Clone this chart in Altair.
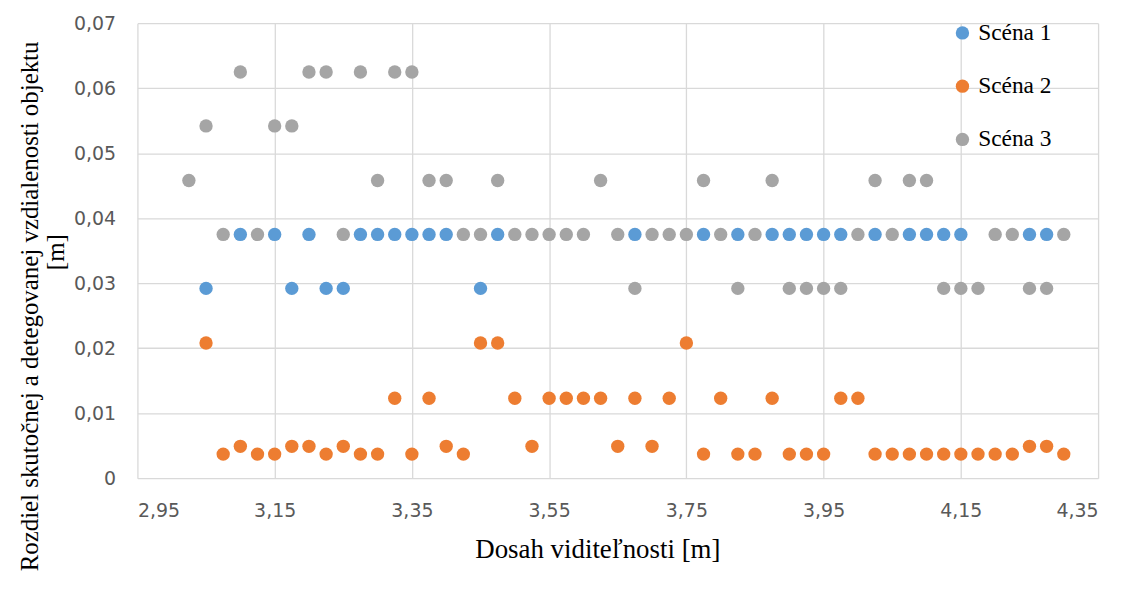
import altair as alt
import pandas as pd

# Scéna 1
s1_x = [3.05, 3.10, 3.15, 3.175, 3.20, 3.225, 3.25, 3.275, 3.30, 3.325, 3.35, 3.375, 3.40,
        3.45, 3.475, 3.675, 3.775, 3.825, 3.875, 3.90, 3.925, 3.95, 3.975, 4.025, 4.075,
        4.10, 4.125, 4.15, 4.25, 4.275]
s1_y = [0.0292, 0.0375, 0.0375, 0.0292, 0.0375, 0.0292, 0.0292, 0.0375, 0.0375, 0.0375,
        0.0375, 0.0375, 0.0375, 0.0292, 0.0375, 0.0375, 0.0375, 0.0375, 0.0375, 0.0375,
        0.0375, 0.0375, 0.0375, 0.0375, 0.0375, 0.0375, 0.0375, 0.0375, 0.0375, 0.0375]

# Scéna 2
s2_x = [3.05, 3.075, 3.10, 3.125, 3.15, 3.175, 3.20, 3.225, 3.25, 3.275, 3.30, 3.325, 3.35,
        3.375, 3.40, 3.425, 3.45, 3.475, 3.50, 3.525, 3.55, 3.575, 3.60, 3.625, 3.65, 3.675,
        3.70, 3.725, 3.75, 3.775, 3.80, 3.825, 3.85, 3.875, 3.90, 3.925, 3.95, 3.975, 4.00,
        4.025, 4.05, 4.075, 4.10, 4.125, 4.15, 4.175, 4.20, 4.225, 4.25, 4.275, 4.30]
s2_y = [0.0208, 0.0037, 0.0049, 0.0037, 0.0037, 0.0049, 0.0049, 0.0037, 0.0049, 0.0037,
        0.0037, 0.0123, 0.0037, 0.0123, 0.0049, 0.0037, 0.0208, 0.0208, 0.0123, 0.0049,
        0.0123, 0.0123, 0.0123, 0.0123, 0.0049, 0.0123, 0.0049, 0.0123, 0.0208, 0.0037,
        0.0123, 0.0037, 0.0037, 0.0123, 0.0037, 0.0037, 0.0037, 0.0123, 0.0123, 0.0037,
        0.0037, 0.0037, 0.0037, 0.0037, 0.0037, 0.0037, 0.0037, 0.0037, 0.0049, 0.0049,
        0.0037]

# Scéna 3
s3_x = [3.025, 3.05, 3.075, 3.10, 3.125, 3.15, 3.175, 3.20, 3.225, 3.25, 3.275, 3.30, 3.325,
        3.35, 3.375, 3.40, 3.425, 3.45, 3.475, 3.50, 3.525, 3.55, 3.575, 3.60, 3.625, 3.65,
        3.675, 3.70, 3.725, 3.75, 3.775, 3.80, 3.825, 3.85, 3.875, 3.90, 3.925, 3.95, 3.975,
        4.00, 4.025, 4.05, 4.075, 4.10, 4.125, 4.15, 4.175, 4.20, 4.225, 4.25, 4.275, 4.30]
s3_y = [0.0458, 0.0542, 0.0375, 0.0625, 0.0375, 0.0542, 0.0542, 0.0625, 0.0625, 0.0375,
        0.0625, 0.0458, 0.0625, 0.0625, 0.0458, 0.0458, 0.0375, 0.0375, 0.0458, 0.0375,
        0.0375, 0.0375, 0.0375, 0.0375, 0.0458, 0.0375, 0.0292, 0.0375, 0.0375, 0.0375,
        0.0458, 0.0375, 0.0292, 0.0375, 0.0458, 0.0292, 0.0292, 0.0292, 0.0292, 0.0375,
        0.0458, 0.0375, 0.0458, 0.0458, 0.0292, 0.0292, 0.0292, 0.0375, 0.0375, 0.0292,
        0.0292, 0.0375]

series_names = ["Scéna 1", "Scéna 2", "Scéna 3"]
series_colors = ["#5B9BD5", "#ED7D31", "#A5A5A5"]
x_ticks = [2.95, 3.15, 3.35, 3.55, 3.75, 3.95, 4.15, 4.35]
y_ticks = [0, 0.01, 0.02, 0.03, 0.04, 0.05, 0.06, 0.07]

rows = []
for name, xs, ys in zip(series_names, [s1_x, s2_x, s3_x], [s1_y, s2_y, s3_y]):
    for xv, yv in zip(xs, ys):
        rows.append({"x": xv, "y": yv, "s": name})
df = pd.DataFrame(rows)

points = alt.Chart(df).mark_circle(size=180, opacity=1).encode(
    x=alt.X("x:Q", scale=alt.Scale(domain=[2.95, 4.35], nice=False, zero=False),
            axis=alt.Axis(values=x_ticks, title="Dosah viditeľnosti [m]",
                          labelExpr="replace(format(datum.value, '.2f'), '.', ',')",
                          titleX=462, titleY=72, titleBaseline="middle",
                          titleAnchor="start", titleAlign="center", titleFontSize=27)),
    y=alt.Y("y:Q", scale=alt.Scale(domain=[0, 0.07], nice=False),
            axis=alt.Axis(values=y_ticks,
                          title="Rozdiel skutočnej a detegovanej vzdialenosti objektu",
                          labelExpr="datum.value == 0 ? '0' : replace(format(datum.value, '.2f'), '.', ',')",
                          titleX=-108, titleY=284, titleAngle=270, titleBaseline="middle",
                          titleAlign="center", titleAnchor="start", titleFontSize=25)),
    color=alt.Color("s:N", scale=alt.Scale(domain=series_names, range=series_colors),
                    legend=alt.Legend(title=None, orient="none", legendX=817, legendY=-2,
                                      symbolType="circle", symbolSize=180,
                                      rowPadding=28.5, labelOffset=4, padding=0)),
    order=alt.value(0),
)

unit_df = pd.DataFrame({"t": ["[m]"]})
unit = alt.Chart(unit_df).mark_text(
    angle=270, align="center", baseline="middle", font="Liberation Serif",
    fontSize=25, color="#000000"
).encode(text="t:N", x=alt.value(-82), y=alt.value(230))

chart = alt.layer(points, unit).properties(
    width=965, height=457,
    autosize=alt.AutoSizeParams(type="none"),
    padding={"left": 130, "top": 14, "right": 20, "bottom": 100},
).configure_view(stroke=None).configure_axis(
    grid=True, gridColor="#D9D9D9", gridWidth=1.3, domain=False, ticks=False,
    labelFont="DejaVu Sans", labelFontSize=19, labelColor="#595959",
    titleFont="Liberation Serif", titleColor="#000000",
    titleFontWeight="normal",
).configure_axisY(labelPadding=22).configure_axisX(labelPadding=24).configure_legend(
    labelFont="Liberation Serif", labelFontSize=23.5, labelColor="#000000"
)

chart.save("out.html", embed_options={"renderer": "svg", "actions": False})
